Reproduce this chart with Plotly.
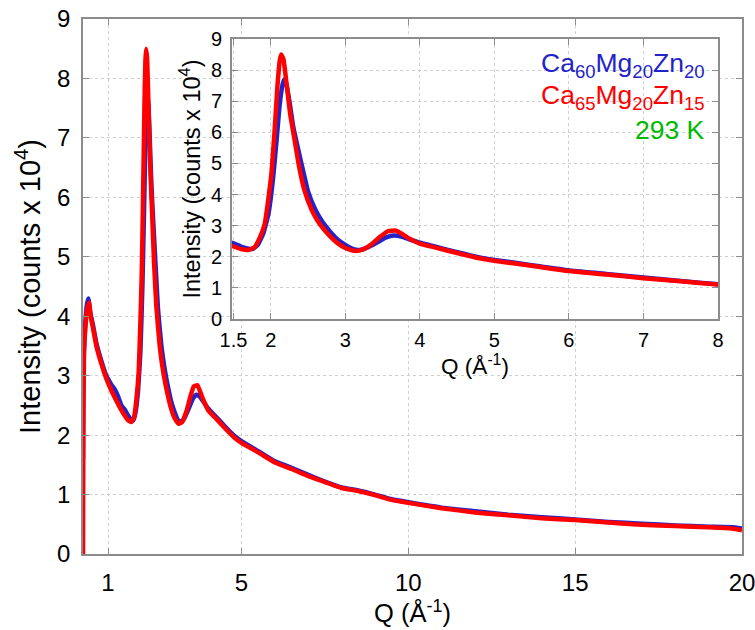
import plotly.graph_objects as go

# ---- data ----
q_blue = [0.25, 0.255, 0.27, 0.32, 0.37, 0.41, 0.47, 0.55, 0.65, 0.8, 0.95, 1.1, 1.21, 1.3, 1.4, 1.5,
          1.6, 1.7, 1.76, 1.83, 1.9, 1.97, 2.03, 2.08, 2.12, 2.16, 2.18, 2.21, 2.25, 2.3, 2.37,
          2.44, 2.5, 2.6, 2.7, 2.8, 2.9, 3.0, 3.1, 3.2, 3.3, 3.42, 3.55, 3.65, 3.75, 3.85,
          4.0, 4.2, 4.5, 4.8, 5.0, 5.5, 6.0, 6.5, 7.0, 7.5, 8.0, 8.5, 9.0, 9.5, 10.0,
          11.0, 12.0, 13.0, 14.0, 15.0, 16.0, 17.0, 18.0, 19.0, 19.7, 20.0]
i_blue = [1.6, 2.6, 3.3, 3.9, 4.2, 4.3, 4.05, 3.85, 3.55, 3.25, 3.0, 2.85, 2.76, 2.65, 2.5, 2.43,
          2.33, 2.26, 2.25, 2.4, 2.75, 3.4, 4.5, 5.8, 6.9, 7.55, 7.7, 7.55, 7.0, 6.2, 5.43,
          4.7, 4.1, 3.5, 3.1, 2.8, 2.55, 2.38, 2.25, 2.22, 2.3, 2.45, 2.62, 2.68, 2.65, 2.57,
          2.45, 2.33, 2.15, 1.98, 1.9, 1.73, 1.56, 1.45, 1.33, 1.22, 1.12, 1.07, 1.0, 0.92, 0.87,
          0.78, 0.72, 0.66, 0.62, 0.58, 0.54, 0.51, 0.48, 0.46, 0.45, 0.43]

q_red = [0.25, 0.26, 0.28, 0.32, 0.37, 0.43, 0.48, 0.55, 0.65, 0.8, 0.95, 1.1, 1.25, 1.4, 1.5,
         1.6, 1.7, 1.78, 1.85, 1.92, 1.97, 2.01, 2.05, 2.09, 2.12, 2.14, 2.17, 2.21, 2.26, 2.32,
         2.38, 2.45, 2.55, 2.63, 2.72, 2.8, 2.9, 3.0, 3.12, 3.22, 3.35, 3.47, 3.57, 3.68, 3.75,
         3.85, 4.0, 4.2, 4.5, 4.8, 5.0, 5.5, 6.0, 6.5, 7.0, 7.5, 8.0, 8.5, 9.0, 9.5, 10.0,
         11.0, 12.0, 13.0, 14.0, 15.0, 16.0, 17.0, 18.0, 19.0, 19.7, 20.0]
i_red = [0.0, 2.0, 3.4, 3.8, 4.1, 4.23, 4.0, 3.8, 3.5, 3.2, 2.95, 2.75, 2.58, 2.42, 2.33,
         2.25, 2.22, 2.3, 2.6, 3.07, 3.9, 4.7, 6.0, 7.5, 8.3, 8.5, 8.35, 7.6, 6.6, 5.75,
         4.9, 4.15, 3.5, 3.15, 2.86, 2.65, 2.43, 2.28, 2.19, 2.22, 2.4, 2.65, 2.82, 2.84, 2.75,
         2.6, 2.42, 2.3, 2.12, 1.95, 1.87, 1.71, 1.54, 1.43, 1.31, 1.21, 1.11, 1.06, 0.99, 0.91, 0.86,
         0.77, 0.7, 0.65, 0.6, 0.57, 0.53, 0.49, 0.47, 0.45, 0.43, 0.40]

main_xticks = [1, 5, 10, 15, 20]
main_yticks = [0, 1, 2, 3, 4, 5, 6, 7, 8, 9]
inset_xticks = [1.5, 2, 3, 4, 5, 6, 7, 8]
inset_yticks = [0, 1, 2, 3, 4, 5, 6, 7, 8, 9]

name_blue = "Ca<sub>60</sub>Mg<sub>20</sub>Zn<sub>20</sub>"
name_red = "Ca<sub>65</sub>Mg<sub>20</sub>Zn<sub>15</sub>"
temp_label = "293 K"

BLUE = "rgb(35,35,200)"
RED = "rgb(255,0,0)"
GREEN = "rgb(0,185,0)"
FONT = "Liberation Sans, Arial, sans-serif"

fig = go.Figure()
for xa, ya in (("x", "y"), ("x2", "y2")):
    fig.add_trace(go.Scatter(x=q_blue, y=i_blue, mode="lines", xaxis=xa, yaxis=ya,
                             line=dict(color=BLUE, width=4.5, shape="spline", smoothing=0.4),
                             showlegend=False))
    fig.add_trace(go.Scatter(x=q_red, y=i_red, mode="lines", xaxis=xa, yaxis=ya,
                             line=dict(color=RED, width=4.5, shape="spline", smoothing=0.4),
                             showlegend=False))

axis_common = dict(showline=True, linecolor="#8c8c8c", linewidth=1.5, mirror="ticks",
                   ticks="inside", tickcolor="#8c8c8c", ticklen=6, tickwidth=1,
                   showgrid=True, gridcolor="#cfcfcf", griddash="dot", gridwidth=1,
                   zeroline=False, automargin=False, ticklabeloverflow="allow")

fig.update_layout(
    width=755, height=630,
    margin=dict(l=83, r=13, t=19, b=76, autoexpand=False),
    paper_bgcolor="white", plot_bgcolor="white",
    font=dict(family=FONT, color="black"),
    xaxis=dict(range=[0.25, 20], tickvals=main_xticks, tickfont=dict(size=24), ticklabelstandoff=6,
               title=dict(text="Q (Å<sup>-1</sup>)", font=dict(size=25.5), standoff=1),
               domain=[0, 1], anchor="y", **axis_common),
    yaxis=dict(range=[0, 9], tickvals=main_yticks, tickfont=dict(size=24), ticklabelstandoff=6,
               title=dict(text="Intensity (counts x 10<sup>4</sup>)", font=dict(size=29), standoff=8),
               domain=[0, 1], anchor="x", **axis_common),
    xaxis2=dict(range=[1.48, 8], tickvals=inset_xticks, ticktext=["1.5", "2", "3", "4", "5", "6", "7", "8"],
                tickfont=dict(size=20), ticklabelstandoff=2,
                title=dict(text="Q (Å<sup>-1</sup>)", font=dict(size=22.5), standoff=0),
                domain=[0.2261, 0.9636], anchor="y2", **axis_common),
    yaxis2=dict(range=[0, 9], tickvals=inset_yticks, tickfont=dict(size=20), ticklabelstandoff=4,
                title=dict(text="Intensity (counts x 10<sup>4</sup>)", font=dict(size=23.5), standoff=4),
                domain=[0.4393, 0.9626], anchor="x2", **axis_common),
)

# opaque background for the inset
fig.add_shape(type="rect", xref="x2 domain", yref="y2 domain", x0=0, x1=1, y0=0, y1=1,
              fillcolor="white", line_width=0, layer="below")

for txt, col, yy in ((name_blue, BLUE, 0.914), (name_red, RED, 0.854), (temp_label, GREEN, 0.792)):
    fig.add_annotation(text=txt, xref="paper", yref="paper", x=0.947, y=yy,
                       xanchor="right", yanchor="middle", showarrow=False,
                       font=dict(size=26.5, color=col, family=FONT))

fig.write_html("out.html", config={"displayModeBar": False},
               post_script="document.body.style.margin='0';document.body.style.overflow='hidden';")
